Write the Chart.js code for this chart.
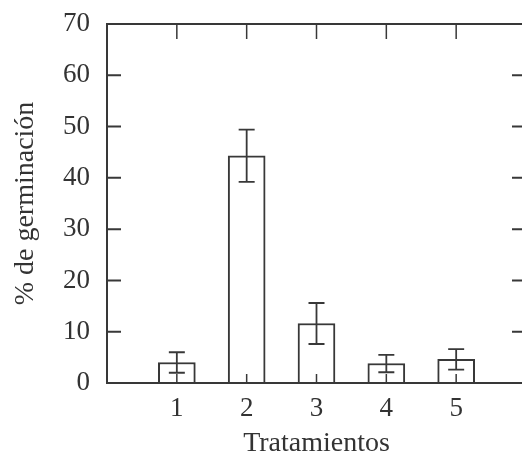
<!DOCTYPE html>
<html>
<head>
<meta charset="utf-8">
<script src="https://cdn.jsdelivr.net/npm/chart.js@4/dist/chart.umd.min.js"></script>
<style>
  html, body { margin: 0; padding: 0; background: #fff; overflow: hidden; }
  #wrap { width: 526px; height: 457px; }
</style>
</head>
<body>
<div id="wrap"><canvas id="grafico"></canvas></div>
<script>
/* datos del gráfico */
const tratamientos = [1, 2, 3, 4, 5];
const germinacion = [4.0, 44.3, 11.6, 3.8, 4.6];
const errores = [2.0, 5.1, 4.0, 1.7, 2.0];
const ticksY = [0, 10, 20, 30, 40, 50, 60, 70];

const LINEA = "#383838";
const FUENTE = "'Liberation Serif', 'DejaVu Serif', serif";

/* marco y marcas hacia dentro */
const marcoPlugin = {
  id: "marco",
  afterDatasetsDraw(chart) {
    const { ctx, chartArea: a, scales } = chart;
    ctx.save();
    ctx.strokeStyle = LINEA;
    ctx.lineWidth = 2;
    ctx.strokeRect(a.left, a.top, a.right - a.left, a.bottom - a.top);

    ctx.beginPath();
    ticksY.slice(1, -1).forEach(v => {
      const y = scales.y.getPixelForValue(v);
      ctx.moveTo(a.left, y); ctx.lineTo(a.left + 14, y);
      ctx.moveTo(a.right, y); ctx.lineTo(a.right - 14, y);
    });
    ctx.stroke();

    ctx.lineWidth = 1.5;
    ctx.beginPath();
    tratamientos.forEach(t => {
      const x = scales.x.getPixelForValue(t);
      ctx.moveTo(x, a.top); ctx.lineTo(x, a.top + 15);
      ctx.moveTo(x, a.bottom); ctx.lineTo(x, a.bottom - 9);
    });
    ctx.stroke();
    ctx.restore();
  }
};

/* barras de error */
const erroresPlugin = {
  id: "errores",
  afterDatasetsDraw(chart) {
    const { ctx, scales } = chart;
    ctx.save();
    ctx.strokeStyle = LINEA;
    ctx.lineWidth = 1.8;
    tratamientos.forEach((t, i) => {
      const x = scales.x.getPixelForValue(t);
      const yAlto = scales.y.getPixelForValue(germinacion[i] + errores[i]);
      const yBajo = scales.y.getPixelForValue(germinacion[i] - errores[i]);
      ctx.beginPath();
      ctx.moveTo(x, yAlto); ctx.lineTo(x, yBajo);
      ctx.moveTo(x - 8, yAlto); ctx.lineTo(x + 8, yAlto);
      ctx.moveTo(x - 8, yBajo); ctx.lineTo(x + 8, yBajo);
      ctx.stroke();
    });
    ctx.restore();
  }
};

const ctx = document.getElementById("grafico").getContext("2d");
new Chart(ctx, {
  type: "bar",
  data: {
    datasets: [{
      data: tratamientos.map((t, i) => ({ x: t, y: germinacion[i] })),
      backgroundColor: "#ffffff",
      borderColor: LINEA,
      borderWidth: 2,
      barThickness: 37
    }]
  },
  options: {
    responsive: true,
    maintainAspectRatio: false,
    animation: false,
    layout: { padding: { top: 24, right: 0, bottom: 0, left: 0 } },
    plugins: {
      legend: { display: false },
      tooltip: { enabled: false }
    },
    scales: {
      x: {
        type: "linear",
        min: 0,
        max: 6,
        offset: false,
        grid: { display: false, drawTicks: false, offset: false },
        border: { display: false },
        ticks: {
          stepSize: 1,
          padding: 10,
          color: "#333",
          font: { family: FUENTE, size: 27 },
          callback: v => tratamientos.includes(v) ? String(v) : ""
        },
        title: {
          display: true,
          text: "Tratamientos",
          color: "#333",
          font: { family: FUENTE, size: 28 },
          padding: { top: 0, bottom: -3 }
        },
        afterFit: s => { s.height = 74; s.paddingLeft = 0; s.paddingRight = 0; }
      },
      y: {
        min: 0,
        max: 70,
        grid: { display: false, drawTicks: false },
        border: { display: false },
        ticks: {
          stepSize: 10,
          padding: 17,
          color: "#333",
          font: { family: FUENTE, size: 27 }
        },
        title: {
          display: true,
          text: "% de germinación",
          color: "#333",
          font: { family: FUENTE, size: 28 },
          padding: { top: 9, bottom: 0 }
        },
        afterFit: s => { s.width = 107; s.paddingTop = 0; s.paddingBottom = 0; }
      }
    }
  },
  plugins: [marcoPlugin, erroresPlugin]
});
</script>
</body>
</html>
